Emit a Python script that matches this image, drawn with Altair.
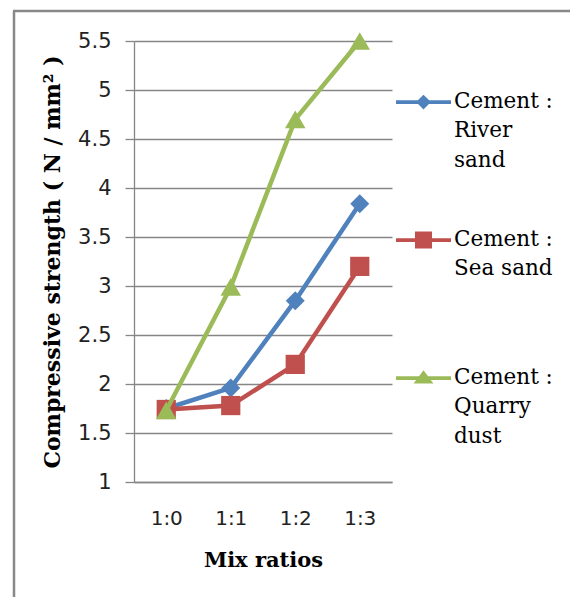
import altair as alt
import pandas as pd

# Mix ratios (cement : fine aggregate) on the x axis
ratios = ["1:0", "1:1", "1:2", "1:3"]

# Series names; "|" marks a line break in the legend label
series_names = ["Cement :|River|sand", "Cement :|Sea sand| ", "Cement :|Quarry|dust"]

# Compressive strength (N/mm²) for each series
river_sand = [1.75, 1.96, 2.85, 3.84]
sea_sand = [1.74, 1.78, 2.20, 3.20]
quarry_dust = [1.73, 2.99, 4.70, 5.50]

colors = ["#4F81BD", "#C0504D", "#9BBB59"]
marker_shapes = ["diamond", "square", "triangle-up"]
marker_sizes = [360, 370, 420]

rows = []
for name, vals in zip(series_names, [river_sand, sea_sand, quarry_dust]):
    for r, v in zip(ratios, vals):
        rows.append({"ratio": r, "strength": v, "series": name})
df = pd.DataFrame(rows)

# Legend symbols: a short line with the series marker on it (path units are scaled by sqrt(size)/2)
dy = 0.42
bar = f"M-1,{-0.07+dy:.3f}H1V{0.07+dy:.3f}H-1Z"
legend_paths = [
    bar + f"M-0.27,{dy:.3f}L0,{-0.27+dy:.3f}L0.27,{dy:.3f}L0,{0.27+dy:.3f}Z",
    bar + f"M-0.31,{-0.31+dy:.3f}H0.31V{0.31+dy:.3f}H-0.31Z",
    bar + f"M0,{-0.28+dy:.3f}L0.36,{0.2+dy:.3f}L-0.36,{0.2+dy:.3f}Z",
]

SERIF = "DejaVu Serif"
SANS = "DejaVu Sans"
GRID = "#868686"

x_enc = alt.X(
    "ratio:N",
    sort=ratios,
    scale=alt.Scale(type="point", padding=0.5),
    axis=alt.Axis(
        title="Mix ratios",
        titleFont=SERIF,
        titleFontSize=21,
        titleFontWeight="bold",
        titleColor="#000000",
        titlePadding=21,
        labelFont=SANS,
        labelFontSize=20,
        labelColor="#222222",
        labelAngle=0,
        labelPadding=26,
        ticks=False,
        domainColor=GRID,
        domainWidth=1.3,
        grid=False,
    ),
)
y_enc = alt.Y(
    "strength:Q",
    scale=alt.Scale(domain=[1, 5.5], nice=False, zero=False),
    axis=alt.Axis(
        title="Compressive strength ( N / mm² )",
        titleFont=SERIF,
        titleFontSize=22,
        titleFontWeight="bold",
        titleColor="#000000",
        titlePadding=13,
        values=[1, 1.5, 2, 2.5, 3, 3.5, 4, 4.5, 5, 5.5],
        format="~g",
        labelFont=SANS,
        labelFontSize=21,
        labelColor="#222222",
        labelPadding=14,
        tickSize=9,
        tickColor=GRID,
        tickWidth=1.3,
        domainColor=GRID,
        domainWidth=1.3,
        gridColor=GRID,
        gridWidth=1.3,
    ),
)
color_scale = alt.Scale(domain=series_names, range=colors)

layers = []
for name, col, shp, sz in zip(series_names, colors, marker_shapes, marker_sizes):
    sub = alt.Chart(df).transform_filter(alt.datum.series == name)
    layers.append(
        sub.mark_line(strokeWidth=4.5, color=col).encode(x=x_enc, y=y_enc)
    )
    layers.append(
        sub.mark_point(shape=shp, size=sz, filled=True, opacity=1, color=col).encode(
            x=x_enc, y=y_enc
        )
    )

legend = alt.Legend(
    title=None,
    orient="none",
    legendX=262,
    legendY=22,
    padding=0,
    symbolSize=3025,
    symbolOpacity=1,
    symbolStrokeWidth=0,
    labelExpr="split(datum.label, '|')",
    labelFont=SERIF,
    labelFontSize=21.5,
    labelColor="#000000",
    labelBaseline="top",
    labelOffset=3,
    labelLimit=200,
    rowPadding=30,
)

# Invisible points that only feed the legend
legend_layer = alt.Chart(df).mark_point(filled=True, opacity=0).encode(
    x=x_enc,
    y=y_enc,
    color=alt.Color("series:N", scale=color_scale, legend=legend),
    shape=alt.Shape(
        "series:N",
        scale=alt.Scale(domain=series_names, range=legend_paths),
        legend=legend,
    ),
)

# Outer frame (left and top edges)
frame_src = alt.Data(values=[{}])
frame_left = alt.Chart(frame_src).mark_rule(color="#888888", strokeWidth=2.5).encode(
    x=alt.value(-120), y=alt.value(-30), y2=alt.value(560)
)
frame_top = alt.Chart(frame_src).mark_rule(color="#888888", strokeWidth=2.5).encode(
    x=alt.value(-121), x2=alt.value(440), y=alt.value(-30)
)

chart = (
    alt.layer(frame_left, frame_top, *layers, legend_layer)
    .properties(
        width=258,
        height=441,
        autosize=alt.AutoSizeParams(type="none"),
        padding={"left": 134, "top": 41, "right": 178, "bottom": 115},
        background="white",
    )
    .configure(style={"guide-label": {"lineHeight": 29.5}})
    .configure_view(stroke=None)
)

chart.save("out.html", embed_options={"renderer": "svg", "actions": False})
